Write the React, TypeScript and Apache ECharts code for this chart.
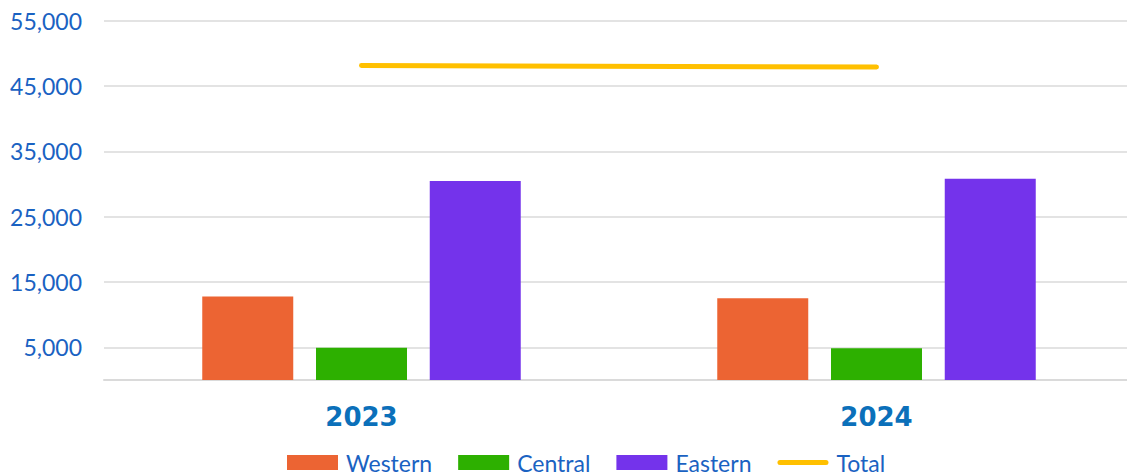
import React, { useEffect, useRef } from "react";
import * as echarts from "echarts";

const categories = ["2023", "2024"];
const western = [12800, 12500];
const central = [4950, 4850];
const eastern = [30450, 30820];
const total = [48150, 47900];
const tickValues = [5000, 15000, 25000, 35000, 45000, 55000];

const LABEL_BLUE = "#1A62C2";
const XLABEL_BLUE = "#0B70BA";
const LINE_ICON =
  "path://M0,0 M51,15 M2.5,5 L48.5,5 A2.5,2.5,0,0,1,48.5,10 L2.5,10 A2.5,2.5,0,0,1,2.5,5 Z";

export default function App() {
  const ref = useRef<HTMLDivElement>(null);
  useEffect(() => {
    if (!ref.current) return;
    const chart = echarts.init(ref.current, null, { renderer: "svg" });
    chart.setOption({
      animation: false,
      backgroundColor: "#ffffff",
      grid: { left: 104, right: 0, top: 20.7, bottom: 95, containLabel: false },
      legend: {
        left: 287,
        top: 451,
        padding: 0,
        itemWidth: 51,
        itemHeight: 15,
        itemGap: 26,
        textStyle: {
          fontFamily: "Lato",
          fontSize: 23,
          color: LABEL_BLUE,
          padding: [0, 0, 0, 3],
        },
        data: [
          { name: "Western", icon: "rect" },
          { name: "Central", icon: "rect" },
          { name: "Eastern", icon: "rect" },
          { name: "Total", icon: LINE_ICON },
        ],
      },
      xAxis: {
        type: "category",
        data: categories,
        axisTick: { show: false },
        axisLine: { show: true, lineStyle: { color: "#DADADA", width: 2 } },
        axisLabel: {
          margin: 24,
          fontFamily: "DejaVu Sans",
          fontWeight: "bold",
          fontSize: 26,
          color: XLABEL_BLUE,
        },
      },
      yAxis: {
        type: "value",
        min: 0,
        max: 55000,
        axisLine: { show: false },
        axisTick: { show: false, customValues: tickValues },
        axisLabel: {
          customValues: tickValues,
          margin: 22,
          fontFamily: "Lato",
          fontSize: 23,
          color: LABEL_BLUE,
          formatter: (v: number) => v.toLocaleString("en-US"),
        },
        splitLine: { show: true, lineStyle: { color: "#E3E3E3", width: 2 } },
      },
      series: [
        {
          name: "Western",
          type: "bar",
          data: western,
          barWidth: 91,
          barGap: "25%",
          itemStyle: { color: "#EC6433" },
        },
        {
          name: "Central",
          type: "bar",
          data: central,
          barWidth: 91,
          barGap: "25%",
          itemStyle: { color: "#2DB000" },
        },
        {
          name: "Eastern",
          type: "bar",
          data: eastern,
          barWidth: 91,
          barGap: "25%",
          itemStyle: { color: "#7433EB" },
        },
        {
          name: "Total",
          type: "line",
          data: total,
          symbol: "none",
          lineStyle: { color: "#FFC000", width: 5, cap: "round" },
          itemStyle: { color: "#FFC000" },
        },
      ],
    });
    return () => chart.dispose();
  }, []);
  return (
    <div
      style={{
        position: "absolute",
        left: 0,
        top: 0,
        width: 1127,
        height: 475,
        overflow: "hidden",
      }}
    >
      <div ref={ref} style={{ width: 1134, height: 475 }} />
    </div>
  );
}
